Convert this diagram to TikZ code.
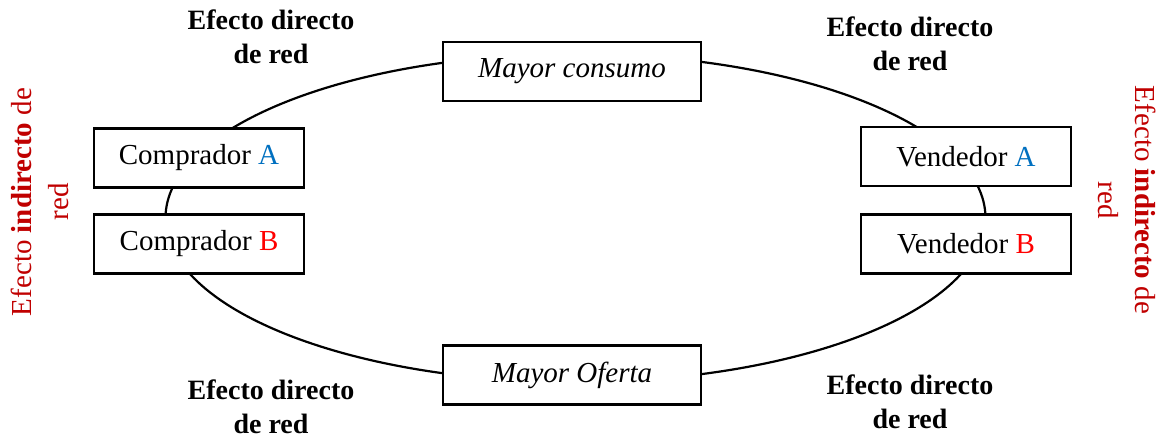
\documentclass[tikz,border=0pt]{standalone}
\usepackage{fontspec}
\setmainfont{Liberation Serif}
\definecolor{cblue}{HTML}{0070C0}
\definecolor{cred}{HTML}{FF0000}
\definecolor{dred}{HTML}{C00000}
\begin{document}
\begin{tikzpicture}[x=0.5pt,y=-0.5pt,
  box/.style={draw=black,line width=1.1pt,fill=white,minimum width=105pt,minimum height=29.5pt,inner sep=0pt,font=\fontsize{14.5}{17}\selectfont},
  ring/.style={draw=black,line width=1.1pt},
  eff/.style={align=center,font=\fontsize{14}{17}\selectfont\bfseries,inner sep=0pt},
  side/.style={align=center,text=dred,font=\fontsize{14.5}{18.5}\selectfont,inner sep=0pt}]
\useasboundingbox (0,0) rectangle (1161,441);
\coordinate (cen) at (575.5,218);
\draw[ring] (cen) ellipse [x radius=205pt, y radius=82pt];
\node[box] (ca) at (199,158) {Comprador \textcolor{cblue}{A}};
\node[box] (cb) at (199,244) {Comprador \textcolor{cred}{B}};
\node[box] (va) at (966,156.5) {Vendedor \textcolor{cblue}{A}};
\node[box] (vb) at (966,244) {Vendedor \textcolor{cred}{B}};
\node[box,minimum width=129pt] (mc) at (572,71.5) {\itshape Mayor consumo};
\node[box,minimum width=129pt] (mo) at (572,375) {\itshape Mayor Oferta};
\node[eff] (e1) at (271,37) {Efecto directo\\de red};
\node[eff] (e2) at (910,44) {Efecto directo\\de red};
\node[eff] (e3) at (271,407) {Efecto directo\\de red};
\node[eff] (e4) at (910,402) {Efecto directo\\de red};
\node[side,rotate=90] (s1) at (40,202) {Efecto \textbf{indirecto} de\\red};
\node[side,rotate=-90] (s2) at (1127,200) {Efecto \textbf{indirecto} de\\red};
\end{tikzpicture}
\end{document}
